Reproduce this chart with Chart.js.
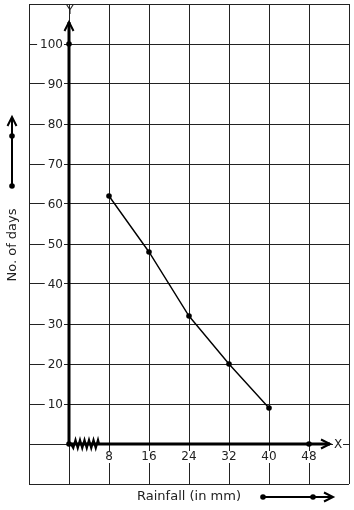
<!DOCTYPE html>
<html>
<head>
<meta charset="utf-8">
<script src="https://cdn.jsdelivr.net/npm/chart.js@4"></script>
<style>
    html, body { margin: 0; padding: 0; background: #fff; }
    #wrap { width: 354px; height: 510px; position: relative; }
</style>
</head>
<body>
<div id="wrap"><canvas id="rainChart"></canvas></div>
<script>
// rainfall vs number of days
const rainfall   = [8, 16, 24, 32, 40];
const days       = [62, 48, 32, 20, 9];
const xTickVals  = [8, 16, 24, 32, 40, 48];
const yTickVals  = [10, 20, 30, 40, 50, 60, 70, 80, 90, 100];
const axisDots   = [[0, 100], [0, 0], [48, 0]];
const xAxisEnd   = 52.2;
const yAxisEnd   = 105.5;

const FONT = "12px 'DejaVu Sans', sans-serif";
const LINE = "#222";

function arrowHead(ctx, x, y, dir) {
    // open chevron, dir: "up" or "right"
    ctx.beginPath();
    if (dir === "up") {
        ctx.moveTo(x - 4.5, y + 9);
        ctx.lineTo(x, y);
        ctx.lineTo(x + 4.5, y + 9);
    } else {
        ctx.moveTo(x - 9, y - 4.5);
        ctx.lineTo(x, y);
        ctx.lineTo(x - 9, y + 4.5);
    }
    ctx.stroke();
}

function dot(ctx, x, y) {
    ctx.beginPath();
    ctx.arc(x, y, 2.8, 0, Math.PI * 2);
    ctx.fill();
}

const decorations = {
    id: "decorations",
    afterDraw(chart) {
        const ctx = chart.ctx;
        const xs = chart.scales.x, ys = chart.scales.y;
        const ox = xs.getPixelForValue(0), oy = ys.getPixelForValue(0);
        ctx.save();
        ctx.font = FONT;
        ctx.fillStyle = "#000";
        ctx.strokeStyle = "#000";

        // y tick labels, sitting on the grid lines
        ctx.textAlign = "right";
        ctx.textBaseline = "middle";
        yTickVals.forEach(v => {
            const py = ys.getPixelForValue(v);
            const w = ctx.measureText(String(v)).width;
            ctx.fillStyle = "#fff";
            ctx.fillRect(ox - 7 - w - 2, py - 6, w + 4, 12);
            ctx.fillStyle = "#222";
            ctx.fillText(String(v), ox - 6, py + 0.5);
        });

        // x tick labels
        ctx.textAlign = "center";
        xTickVals.forEach(v => {
            const px = xs.getPixelForValue(v);
            const w = ctx.measureText(String(v)).width;
            ctx.fillStyle = "#fff";
            ctx.fillRect(px - w / 2 - 1, oy + 7, w + 2, 12);
            ctx.fillStyle = "#222";
            ctx.fillText(String(v), px, oy + 13);
        });

        // axis arrows and names
        ctx.lineWidth = 2;
        arrowHead(ctx, ox, ys.getPixelForValue(yAxisEnd), "up");
        arrowHead(ctx, xs.getPixelForValue(xAxisEnd), oy, "right");
        ctx.fillStyle = "#fff";
        ctx.fillRect(xs.getPixelForValue(xAxisEnd) + 3, oy - 6, 10, 12);
        ctx.fillStyle = "#222";
        ctx.textAlign = "center";
        ctx.fillText("X", xs.getPixelForValue(xAxisEnd) + 8, oy + 0.5);
        ctx.fillText("Y", ox + 1, ys.getPixelForValue(yAxisEnd) - 11);

        // broken scale zigzag near origin
        ctx.lineWidth = 2.2;
        ctx.strokeStyle = "#000";
        ctx.beginPath();
        const zx0 = ox + 2, zx1 = ox + 29, n = 12;
        ctx.moveTo(zx0, oy);
        for (let i = 1; i <= n; i++) {
            const px = zx0 + (zx1 - zx0) * i / n;
            ctx.lineTo(px, oy + (i % 2 ? 4 : -4));
        }
        ctx.lineTo(zx1 + 1, oy);
        ctx.stroke();

        // axis titles with little arrows
        const area = chart.chartArea;
        ctx.fillStyle = "#222";
        ctx.font = "13px 'DejaVu Sans', sans-serif";
        ctx.textAlign = "center";
        ctx.fillText("Rainfall (in mm)", 189, area.bottom + 13);
        ctx.save();
        ctx.translate(13, 245);
        ctx.rotate(-Math.PI / 2);
        ctx.fillText("No. of days", 0, 0);
        ctx.restore();

        ctx.fillStyle = "#000";
        ctx.lineWidth = 2;
        ctx.beginPath();
        ctx.moveTo(263, area.bottom + 13);
        ctx.lineTo(333, area.bottom + 13);
        ctx.stroke();
        arrowHead(ctx, 333, area.bottom + 13, "right");
        dot(ctx, 263, area.bottom + 13);
        dot(ctx, 313, area.bottom + 13);

        ctx.beginPath();
        ctx.moveTo(12, 186);
        ctx.lineTo(12, 117);
        ctx.stroke();
        arrowHead(ctx, 12, 117, "up");
        dot(ctx, 12, 186);
        dot(ctx, 12, 136);

        ctx.restore();
    }
};

new Chart(document.getElementById("rainChart"), {
    type: "scatter",
    data: {
        datasets: [
            {
                data: rainfall.map((x, i) => ({ x, y: days[i] })),
                showLine: true,
                borderColor: "#000",
                borderWidth: 1.4,
                pointRadius: 2.8,
                pointBackgroundColor: "#000",
                pointBorderWidth: 0,
            },
            {
                data: [{ x: 0, y: 0 }, { x: 0, y: yAxisEnd }],
                showLine: true,
                borderColor: "#000",
                borderWidth: 3,
                pointRadius: 0,
            },
            {
                data: [{ x: 0, y: 0 }, { x: xAxisEnd, y: 0 }],
                showLine: true,
                borderColor: "#000",
                borderWidth: 3,
                pointRadius: 0,
            },
            {
                data: axisDots.map(([x, y]) => ({ x, y })),
                showLine: false,
                pointRadius: 2.8,
                pointBackgroundColor: "#000",
                pointBorderWidth: 0,
            },
        ],
    },
    options: {
        responsive: true,
        maintainAspectRatio: false,
        animation: false,
        devicePixelRatio: 1,
        layout: { padding: { left: 29, right: 5, top: 4, bottom: 26 } },
        plugins: { legend: { display: false }, tooltip: { enabled: false } },
        scales: {
            x: {
                type: "linear",
                min: -8, max: 56,
                ticks: { stepSize: 8, display: false },
                grid: { color: LINE, lineWidth: 1, drawTicks: false },
                border: { display: false },
            },
            y: {
                type: "linear",
                min: -10, max: 110,
                ticks: { stepSize: 10, display: false },
                grid: { color: LINE, lineWidth: 1, drawTicks: false },
                border: { display: false },
            },
        },
    },
    plugins: [decorations],
});
</script>
</body>
</html>
